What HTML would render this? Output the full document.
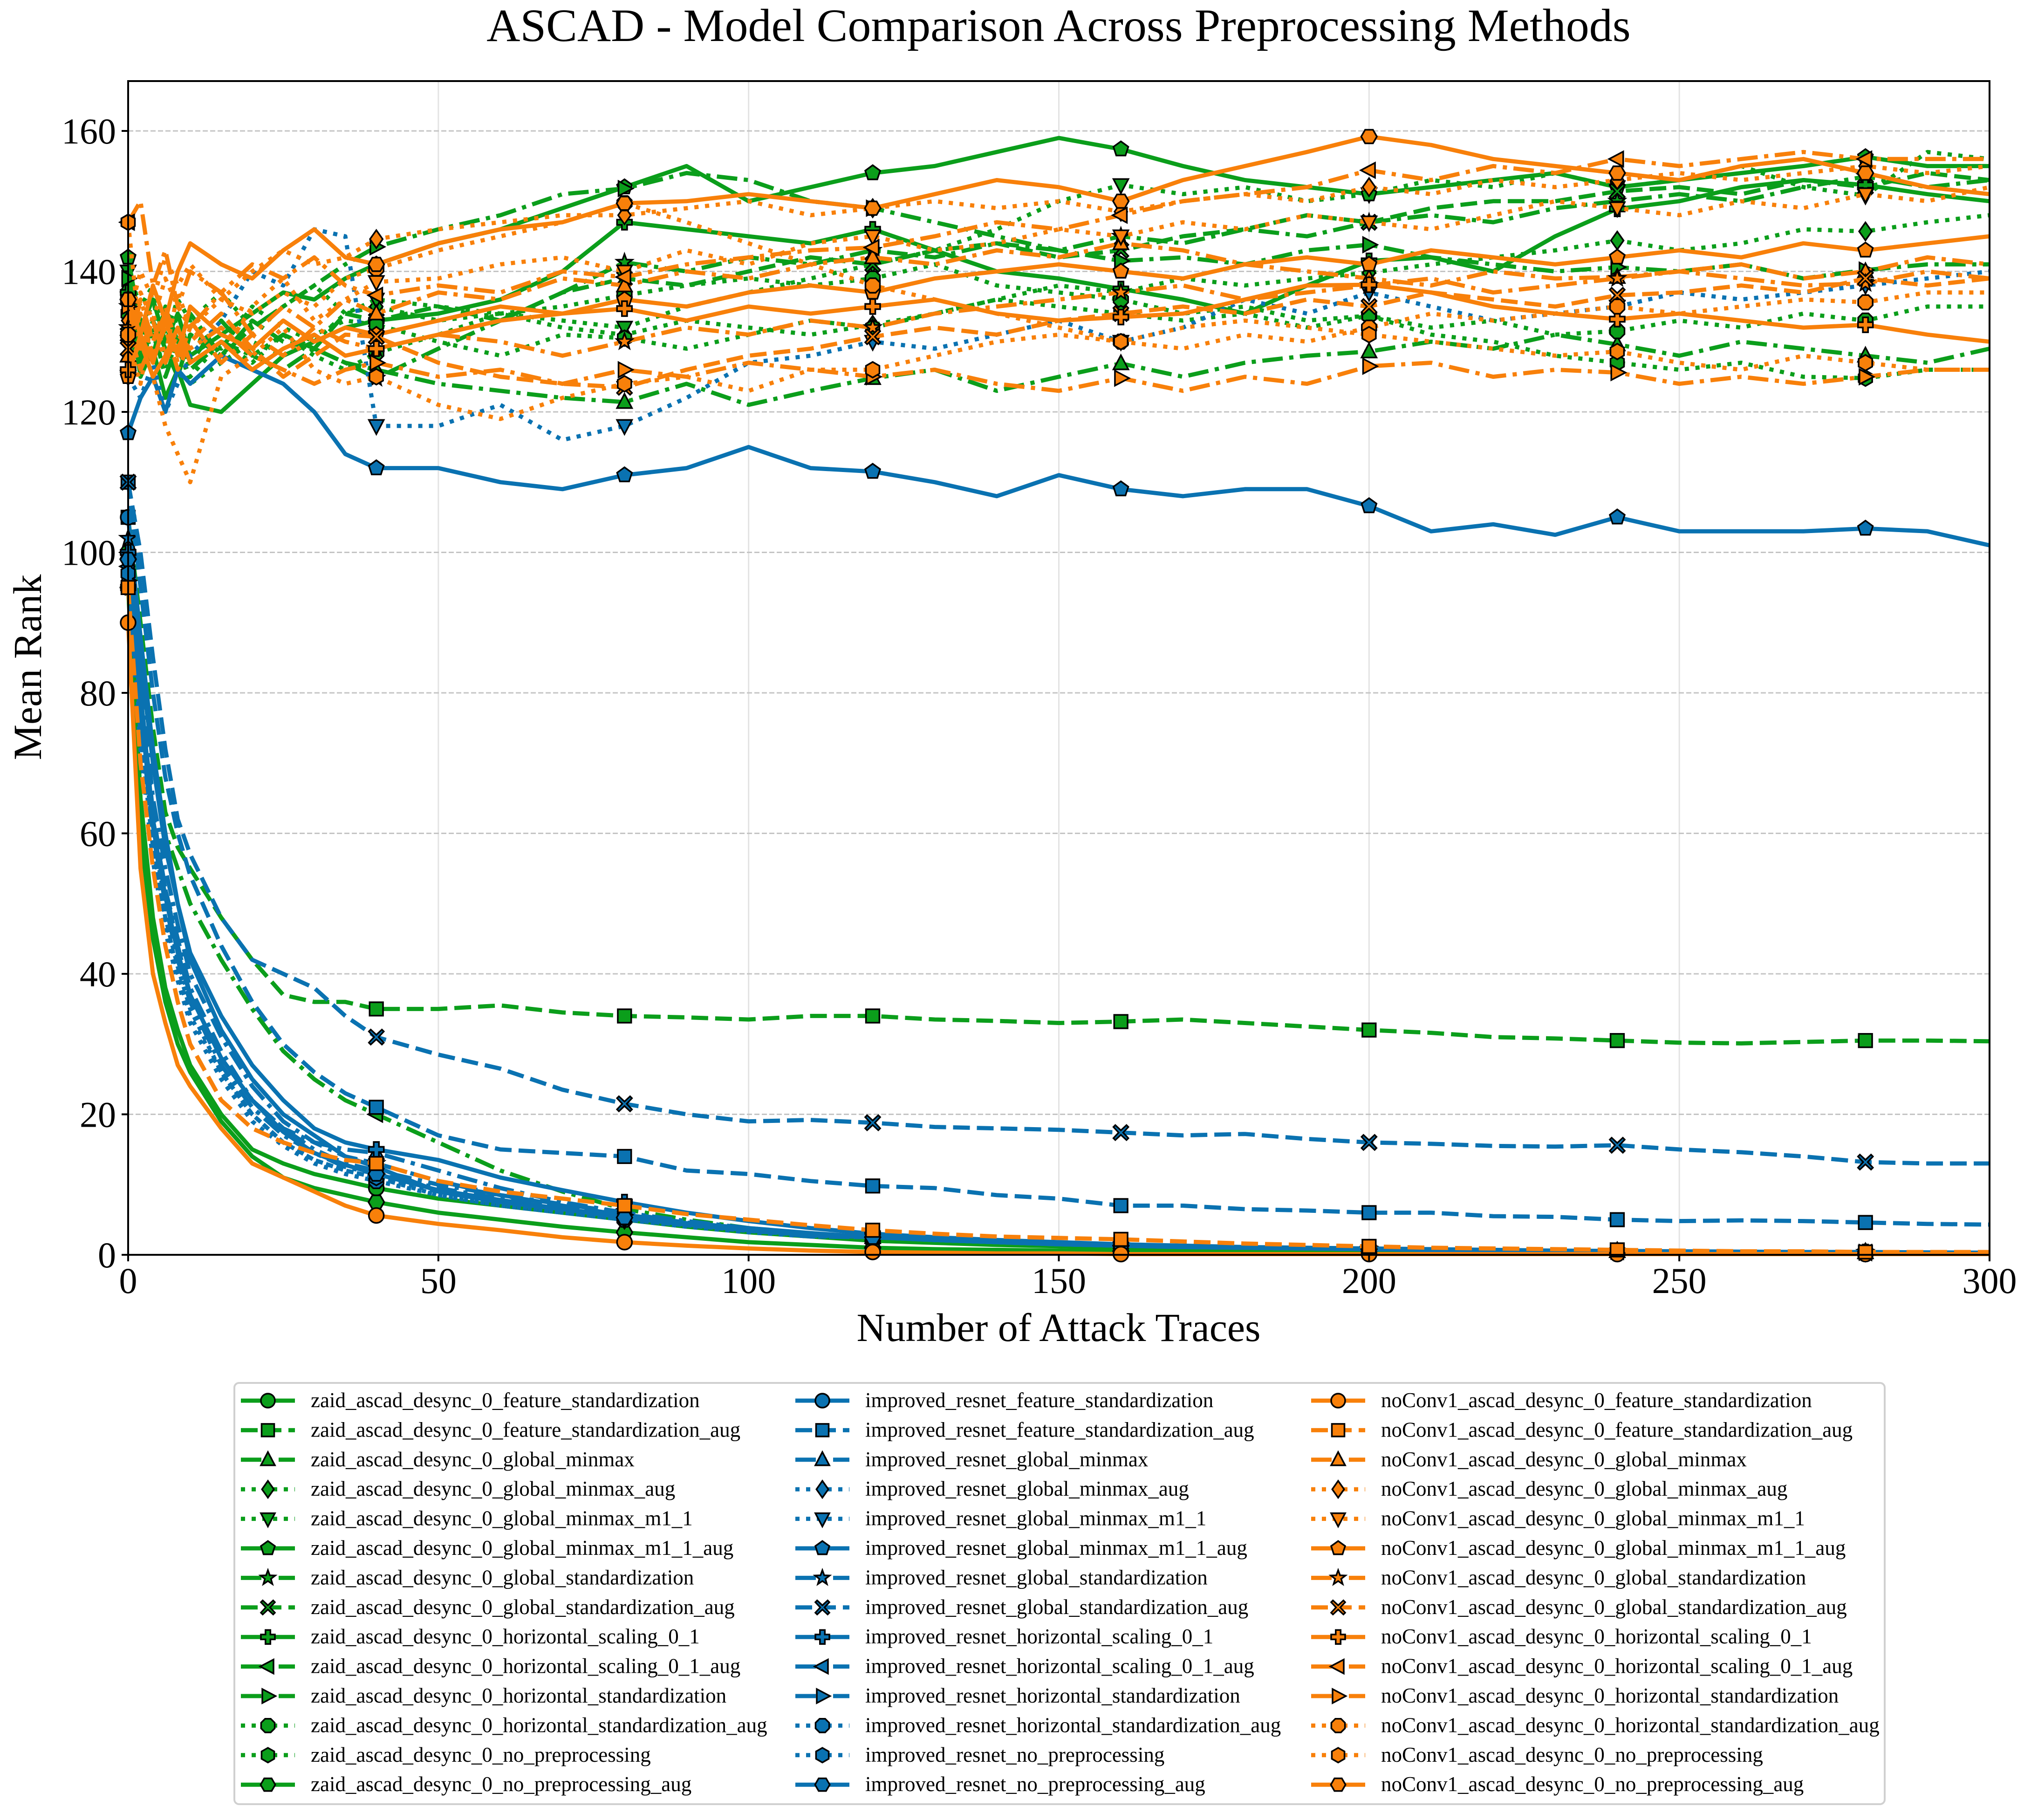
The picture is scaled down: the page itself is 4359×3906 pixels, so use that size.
<!DOCTYPE html>
<html><head><meta charset="utf-8">
<style>
html,body{margin:0;padding:0;background:#fff;}
svg{display:block;font-family:"Liberation Serif","DejaVu Serif",serif;}
</style></head>
<body>
<svg id="chart" width="4359" height="3906" viewBox="0 0 4359 3906" xmlns="http://www.w3.org/2000/svg">
<rect width="4359" height="3906" fill="#fff"/>
<text x="2272" y="88" font-size="100" text-anchor="middle">ASCAD - Model Comparison Across Preprocessing Methods</text>
<g id="grid"></g>
<g id="series"></g>
<g id="axes"></g>
<text x="2272" y="2878" font-size="86" text-anchor="middle">Number of Attack Traces</text>
<text x="0" y="0" font-size="86" text-anchor="middle" transform="translate(88,1432) rotate(-90)">Mean Rank</text>
<g id="legend"></g>
</svg>
<script>
const xs = [0,2,4,6,8,10,15,20,25,30,35,40,50,60,70,80,90,100,110,120,130,140,150,160,170,180,190,200,210,220,230,240,250,260,270,280,290,300];
const xTicks = [0,50,100,150,200,250,300];
const yTicks = [0,20,40,60,80,100,120,140,160];
const markerXs = [0,40,80,120,160,200,240,280];
const models = ["zaid_ascad_desync_0_","improved_resnet_","noConv1_ascad_desync_0_"];
const methods = ["feature_standardization","feature_standardization_aug","global_minmax","global_minmax_aug","global_minmax_m1_1","global_minmax_m1_1_aug","global_standardization","global_standardization_aug","horizontal_scaling_0_1","horizontal_scaling_0_1_aug","horizontal_standardization","horizontal_standardization_aug","no_preprocessing","no_preprocessing_aug"];
const tailA = [2.5,2.1,1.8,1.5,1.3,1.1,1.0,0.9,0.8,0.7,0.6,0.55,0.5,0.45,0.4,0.4,0.35,0.3,0.3];

const zaidValues = [
 [100,65,48,38,32,27,20,15,13,11.5,10.5, 9.5,8,7,6,5,4,3.2,2.6, 2,1.7,1.4,1.2,1,0.9,0.8,0.7,0.6,0.55,0.5,0.45,0.4,0.4,0.35,0.3,0.3,0.3,0.3],
 [105,90,75,63,58,55,48,42,37,36,36, 35,35,35.5,34.5,34,33.8,33.5,34, 34,33.5,33.3,33,33.2,33.5,33,32.5,32,31.6,31,30.8,30.5,30.2,30.1,30.3,30.5,30.5,30.4],
 [138,128,132,125,130,127,133,128,131,129,127, 126,124,123,122,121.4,124,121,123,124.8,126,123,125,126.9,125,127,128,128.6,130,129,131,129.6,128,130,129,128,127,129],
 [133,130,136,128,134,131,129,135,132,130,134, 135,133,134,132,131,133,132,131,132.4,134,136,138,137,139,138,139,139.8,141,142,143,144.4,143,144,146,145.7,147,148],
 [140,135,138,131,136,133,137,132,135,138,134, 136,135,134,133,132,135,137,139,141,143,146,150,152.3,151,152,150,151,153,152,154,152,153,155,152,150.8,157,156],
 [142,132,136,130,134,128,131,134,137,136,139, 141,144,146,149,152,155,150,152,154,155,157,159,157.4,155,153,152,151,152,153,154,152,153,154,155,156.3,155,155],
 [135,129,133,127,131,126,130,128,126,129,127, 124.8,129,133,137,141.3,140,142,141,143,142,144,143,145,144,146,145,147,148,147,149,150,151,150,152,153.5,152,153],
 [131,127,133,129,125,131,128,133,130,129,134, 133,135,133,137,139,138,140,142,141,143,144,142,143,145,146,148,147,149,150,150,151.4,152,151,153,152,154,153],
 [137,125,129,122,126,121,120,124,128,130,132, 133,134,136,140,147,146,145,144,146,143,140,139,137.5,136,134,138,141.5,142,140,145,148.9,150,152,153,152.3,151,150],
 [100,85,70,60,55,50,42,35,29,25,22, 20,16,12,9,6.5,5,3.8,3, 2.5,2,1.7,1.4,1.2,1,0.9,0.8,0.7,0.6,0.55,0.5,0.45,0.4,0.4,0.35,0.3,0.3,0.3],
 [139,133,128,135,130,134,128,132,135,138,141, 143.5,146,148,151,151.8,154,153,150,149,147,145,143,141.5,142,141,143,143.8,142,141,140,140.6,140,141,139,140.2,141,141],
 [136,131,127,133,129,125,130,127,131,128,126, 128.4,131,134,135,136.6,138,139,138,139,141,138,137,136,134,135,133,133.7,132,133,131,131.5,133,132,134,133,135,135],
 [134,128,131,126,130,124,127,130,128,131,133, 132.4,130,128,131,130.5,129,131,133,132,134,136,135,134,133,134,132,133.7,131,130,128,127,126,127,125,124.8,126,126],
 [95,60,45,36,30,26,19,14,11,9.5,8.5, 7.5,6,5,4,3.2,2.5,1.8,1.4, 1,0.8,0.7,0.6,0.5,0.5,0.45,0.4,0.4,0.35,0.3,0.3,0.3,0.25,0.25,0.2,0.2,0.2,0.2]
];
const improvedValues = [
 [105,88,72,60,50,42,32,25,20,17,14, 12.5,9,7.5,6.5,5.5,4.5,3.8,3.1, ...tailA],
 [110,95,80,68,60,54,44,36,30,26,23, 21,17,15,14.5,14,12,11.5,10.5, 9.8,9.5,8.5,8,7,7,6.5,6.3,6,6,5.5,5.4,5,4.8,4.9,4.8,4.6,4.4,4.3],
 [100,80,62,52,45,38,29,22,18,16,15, 14.5,12,9.5,7.5,6,4.5,3.5,2.6, ...tailA],
 [98,75,58,48,40,34,26,20,16,13.5,12, 11,8.5,7,6,5,4.2,3.4,2.8, ...tailA],
 [125,122,127,120,124,128,133,140,138,146,145, 118,118,121,116,118,122,127,128,130,129,131,133,130,132,136,134,137,135,133,134,135,137,136,137,138,139,140],
 [117,122,125,120,126,124,128,126,124,120,114, 112,112,110,109,111,112,115,112,111.5,110,108,111,109,108,109,109,106.6,103,104,102.5,105,103,103,103,103.4,103,101],
 [102,82,65,55,47,40,31,24,19,16,14, 13,10.5,8.5,7,5.6,4.5,3.6,3, ...tailA],
 [110,100,85,72,62,57,48,42,40,38,34, 31,28.5,26.5,23.5,21.5,20,19,19.2, 18.8,18.2,18,17.8,17.4,17,17.2,16.5,16,15.8,15.5,15.4,15.6,15,14.6,14,13.2,13,13],
 [100,85,70,58,50,43,34,27,22,18,16, 15,13.5,11,9.2,7.5,6,4.8,3.8, 3,2.5,2.1,1.8,1.5,1.3,1.1,1,0.9,0.8,0.7,0.6,0.55,0.5,0.45,0.4,0.4,0.35,0.3],
 [98,80,63,52,44,37,28,22,18,15,13, 12,10,8.5,7.2,6,4.8,3.8,3, ...tailA],
 [96,76,60,50,42,36,27,21,17,14.5,12.5, 11.5,9.5,8,6.8,5.7,4.6,3.7,3, ...tailA],
 [95,72,56,46,39,33,25,19,15.5,13,11.5, 10.5,8.5,7,6,5,4,3.2,2.6, ...tailA],
 [97,74,58,48,41,35,26,20,16,13.5,12, 11,9,7.5,6.3,5.2,4.2,3.4,2.7, ...tailA],
 [99,78,61,51,43,37,28,22,17.5,14.5,12.8, 11.5,9.2,7.8,6.5,5.3,4.3,3.5,2.8, ...tailA]
];
const noConvValues = [
 [90,55,40,33,27,24,18,13,11,9,7, 5.6,4.4,3.5,2.5,1.8,1.3,0.9,0.6, 0.4,0.3,0.2,0.2,0.1,0.1,0.1,0.1,0.1,0.1,0.1,0.1,0.1,0.1,0.1,0.1,0.1,0.1,0.1],
 [95,70,55,44,36,30,22,18,16,14.5,13.5, 13,10.5,9,8,7,5.8,5,4.2, 3.5,3,2.6,2.4,2.2,1.9,1.6,1.4,1.2,1.0,0.9,0.8,0.7,0.6,0.5,0.5,0.4,0.4,0.4],
 [128,136,130,134,127,132,137,131,135,132,136, 134,137,136,139,138,140,139,141,142,141,143,142,144,143,141,140,139,138,140,139,139.2,140,141,139,140,142,141],
 [133,140,136,142,138,141,136,140,143,141,142, 144.6,146,147,148,148,149,150,148,149,150,149,150,148.5,150,151,150,152,151,153,152,153,154,153,154,155,154,155],
 [130,124,134,128,137,132,128,135,139,133,136, 138.5,139,141,142,140,143,141,144,145,143,144,146,145,147,146,148,147,146,148,150,149,148,150,149,151,150,152],
 [125,131,127,133,128,135,131,129,133,130,132, 131,133,135,134,136,135,137,138,137,139,140,141,140,139,141,142,141,143,142,141,142,143,142,144,143,144,145],
 [132,126,130,135,129,133,127,131,128,132,130, 129,131,130,128,130,132,131,133,132,134,135,136,137,138,136,137,138,139,137,138,139,140,139,138,138.3,140,139],
 [129,134,128,132,126,130,134,129,125,128,131, 130.7,127,125,124,123.5,126,128,129,130.7,132,131,133,134,135,134,136,135,137,136,135,136.6,137,138,137,139,138,139],
 [126,130,125,128,132,127,130,126,129,131,128, 129,131,133,134,134.7,133,135,134,135,136,134,133,133.5,134,136,138,138.1,137,135,134,133.2,134,133,132,132.4,131,130],
 [147,150,138,143,135,140,137,141,139,142,138, 136.6,138,137,140,139.2,141,142,143,143.4,145,147,146,148,150,151,152,154.4,153,155,154,156,155,156,157,156,156,156],
 [135,129,133,127,131,129,132,128,126,124,126, 127,125,126,124,126,125,127,126,125,126,124,123,124.8,123,125,124,126.5,127,125,126,125.6,124,125,124,125,126,126],
 [131,137,133,139,135,132,136,134,137,135,139, 140.4,143,145,147,149.7,147,144,141,138,136,134,132,130,129,131,130,132,134,133,134,135,134,135,136,135.6,137,137],
 [147,130,125,118,114,110,125,128,132,126,124, 125,121,119,122,124,125,123,126,126,128,130,131,130,132,133,132,131,130,129,128,128.6,127,126,128,127,126,126],
 [136,131,138,133,140,144,141,139,143,146,142, 141,144,146,147,149.7,150,151,150,149,151,153,152,150,153,155,157,159.2,158,156,155,154,153,155,156,154,152,151]
];

const NS = "http://www.w3.org/2000/svg";
const colors = ["#0b9e1b","#0a72b1","#f8800a"];
const styles = ["solid","dashed","dashdot","dotted","dotted","solid","dashdot","dashed","solid","dashdot","dashdot","dotted","dotted","solid"];
const markers = ["o","s","^","D","v","p","*","X","P","<",">","8","h","H"];
const dashMap = {solid:null, dashed:"36,15", dashdot:"44,14,9,14", dotted:"9,14"};

const L = 275, R = 4270, T = 174, B = 2693;
const xMin = 0, xMax = 300, yMin = 0, yTop = 160, yTopPix = 281;
function xPix(v){ return L + (v - xMin) / (xMax - xMin) * (R - L); }
function yPix(v){ return B - (v - yMin) / (yTop - yMin) * (B - yTopPix); }

function mk(tag, attrs, parent){
  const e = document.createElementNS(NS, tag);
  for (const k in attrs) e.setAttribute(k, attrs[k]);
  parent.appendChild(e);
  return e;
}

function markerShape(type, cx, cy, r, fill, parent){
  let e;
  const pts = (arr) => arr.map(p => (cx + p[0]*r).toFixed(1) + "," + (cy + p[1]*r).toFixed(1)).join(" ");
  const poly = (n, rot, rr) => { const a=[]; for(let i=0;i<n;i++){const t=rot+i*2*Math.PI/n;a.push([Math.cos(t)*rr,Math.sin(t)*rr]);} return a; };
  switch(type){
    case "o": e = mk("circle",{cx:cx,cy:cy,r:r},parent); break;
    case "s": e = mk("rect",{x:cx-r*0.9,y:cy-r*0.9,width:r*1.8,height:r*1.8},parent); break;
    case "^": e = mk("polygon",{points:pts([[0,-1.1],[1,0.8],[-1,0.8]])},parent); break;
    case "v": e = mk("polygon",{points:pts([[0,1.1],[1,-0.8],[-1,-0.8]])},parent); break;
    case "<": e = mk("polygon",{points:pts([[-1.1,0],[0.8,-1],[0.8,1]])},parent); break;
    case ">": e = mk("polygon",{points:pts([[1.1,0],[-0.8,-1],[-0.8,1]])},parent); break;
    case "D": e = mk("polygon",{points:pts([[0,-1.2],[0.85,0],[0,1.2],[-0.85,0]])},parent); break;
    case "p": e = mk("polygon",{points:pts(poly(5,-Math.PI/2,1.05))},parent); break;
    case "h": e = mk("polygon",{points:pts(poly(6,-Math.PI/2,1.05))},parent); break;
    case "H": e = mk("polygon",{points:pts(poly(6,0,1.05))},parent); break;
    case "8": e = mk("polygon",{points:pts(poly(8,Math.PI/8,1.05))},parent); break;
    case "*": { const a=[]; for(let i=0;i<10;i++){const t=-Math.PI/2+i*Math.PI/5;const rr=i%2?0.45:1.1;a.push([Math.cos(t)*rr,Math.sin(t)*rr]);} e = mk("polygon",{points:pts(a)},parent); break; }
    case "P": e = mk("polygon",{points:pts([[-0.35,-1],[0.35,-1],[0.35,-0.35],[1,-0.35],[1,0.35],[0.35,0.35],[0.35,1],[-0.35,1],[-0.35,0.35],[-1,0.35],[-1,-0.35],[-0.35,-0.35]])},parent); break;
    case "X": e = mk("polygon",{points:pts([[-0.75,-1],[0,-0.3],[0.75,-1],[1,-0.75],[0.3,0],[1,0.75],[0.75,1],[0,0.3],[-0.75,1],[-1,0.75],[-0.3,0],[-1,-0.75]])},parent); break;
  }
  e.setAttribute("fill", fill);
  e.setAttribute("stroke", "#000");
  e.setAttribute("stroke-width", "3.5");
  return e;
}

// grid
const grid = document.getElementById("grid");
xTicks.forEach(t => {
  const ln = mk("line",{x1:xPix(t),x2:xPix(t),y1:T,y2:B,stroke:"#e3e3e3","stroke-width":3},grid);
  
  
});
yTicks.forEach(t => {
  const ln = mk("line",{x1:L,x2:R,y1:yPix(t),y2:yPix(t),stroke:"#c4c4c4","stroke-width":3,"stroke-dasharray":"11,5"},grid);
  
  
});

// series
const sg = document.getElementById("series");
const allValues = [zaidValues, improvedValues, noConvValues];
const markerIdx = markerXs.map(m => xs.indexOf(m));
allValues.forEach((group, gi) => {
  group.forEach((vals, si) => {
    const g = mk("g",{},sg);
    
    
    const d = vals.map((v,i) => (i?"L":"M") + xPix(xs[i]).toFixed(1) + "," + yPix(v).toFixed(1)).join("");
    const p = mk("path",{d:d,fill:"none",stroke:colors[gi],"stroke-width":9,"stroke-linejoin":"round"},g);
    const da = dashMap[styles[si]];
    if (da) p.setAttribute("stroke-dasharray", da);
    
    
    markerIdx.forEach(mi => {
      const m = markerShape(markers[si], xPix(xs[mi]), yPix(vals[mi]), 16, colors[gi], g);
      
      
    });
  });
});

// axes
const ax = document.getElementById("axes");
const frame = mk("rect",{x:L,y:T,width:R-L,height:B-T,fill:"none",stroke:"#000","stroke-width":4},ax);


xTicks.forEach(t => {
  const tk = mk("line",{x1:xPix(t),x2:xPix(t),y1:B,y2:B+14,stroke:"#000","stroke-width":4},ax);
  
  
  const tx = mk("text",{x:xPix(t),y:B+82,"font-size":78,"text-anchor":"middle"},ax);
  tx.textContent = t;
  
  
});
yTicks.forEach(t => {
  const tk = mk("line",{x1:L-14,x2:L,y1:yPix(t),y2:yPix(t),stroke:"#000","stroke-width":4},ax);
  
  
  const tx = mk("text",{x:L-26,y:yPix(t)+27,"font-size":78,"text-anchor":"end"},ax);
  tx.textContent = t;
  
  
});

// legend
const lg = document.getElementById("legend");
const box = mk("rect",{x:503,y:2968,width:3542,height:904,rx:10,fill:"#fff",stroke:"#d0d0d0","stroke-width":4},lg);


const colCenters = [575,1765,2872];
models.forEach((mName, gi) => {
  methods.forEach((meth, si) => {
    const cy = 3006 + si * 63.4;
    const cx = colCenters[gi];
    const e = mk("g",{},lg);
    
    
    const ln = mk("line",{x1:cx-58,x2:cx+58,y1:cy,y2:cy,stroke:colors[gi],"stroke-width":9},e);
    const da = dashMap[styles[si]];
    if (da) ln.setAttribute("stroke-dasharray", da);
    markerShape(markers[si], cx, cy, 15, colors[gi], e);
    const tx = mk("text",{x:cx+92,y:cy+14,"font-size":45},e);
    tx.textContent = mName + meth;
  });
});
</script>
</body></html>
